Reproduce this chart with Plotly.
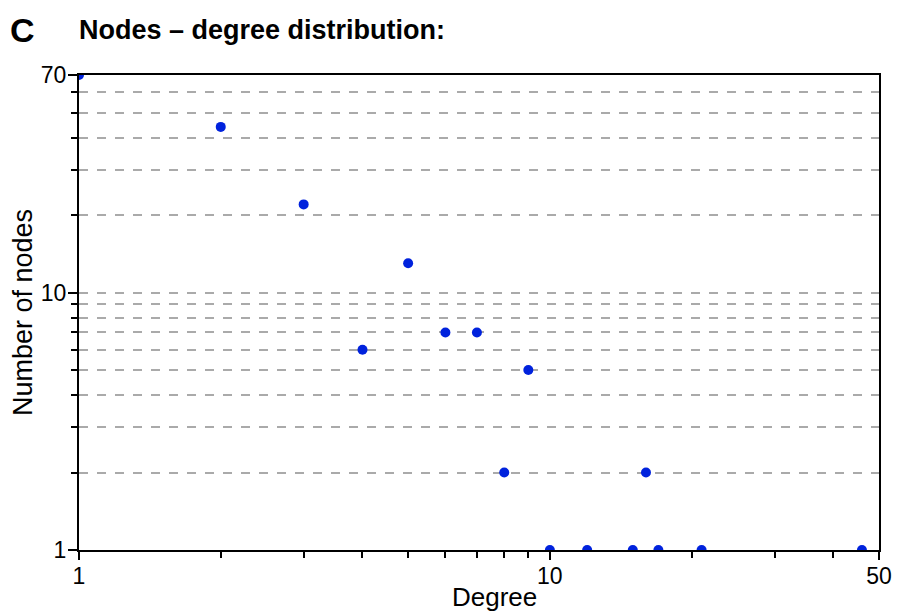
import plotly.graph_objects as go

degree = [1, 2, 3, 4, 5, 6, 7, 8, 9, 10, 12, 15, 16, 17, 21, 46]
nodes = [70, 44, 22, 6, 13, 7, 7, 2, 5, 1, 1, 1, 2, 1, 1, 1]

x_ticks = [1, 10, 50]
x_minor = [2, 3, 4, 5, 6, 7, 8, 9, 20, 30, 40]
y_ticks = [1, 10, 70]
y_minor = [2, 3, 4, 5, 6, 7, 8, 9, 20, 30, 40, 50, 60]

FONT = "Liberation Sans, Arial, sans-serif"

fig = go.Figure()
fig.add_trace(go.Scatter(
    x=degree, y=nodes, mode="markers",
    marker=dict(color="#0022dd", size=10),
    cliponaxis=True, showlegend=False,
))

# page body has an 8px margin, so the figure is sized/offset accordingly
fig.update_layout(
    width=897, height=604,
    margin=dict(l=71, r=26, t=67, b=62),
    paper_bgcolor="white", plot_bgcolor="white",
    font=dict(family=FONT, color="black", size=23),
)
fig.update_xaxes(
    type="log", range=[0, 1.69897], automargin=False,
    tickmode="array", tickvals=x_ticks, ticktext=[str(v) for v in x_ticks],
    ticks="outside", ticklen=8, tickwidth=1.5, tickcolor="black",
    ticklabelstandoff=-4,
    showline=True, linecolor="black", linewidth=2, mirror=True,
    showgrid=False, zeroline=False,
    minor=dict(tickmode="array", tickvals=x_minor, ticks="outside", ticklen=6,
               tickwidth=1.5, tickcolor="black", showgrid=False),
    tickfont=dict(size=23),
)
fig.update_yaxes(
    type="log", range=[0, 1.845098], automargin=False,
    tickmode="array", tickvals=y_ticks, ticktext=[str(v) for v in y_ticks],
    ticks="outside", ticklen=9, tickwidth=1.5, tickcolor="black",
    ticklabelstandoff=-3,
    showline=True, linecolor="black", linewidth=2, mirror=True,
    showgrid=False, zeroline=False,
    minor=dict(tickmode="array", tickvals=y_minor + [10], ticks="outside", ticklen=6,
               tickwidth=1.5, tickcolor="black", showgrid=True,
               gridcolor="#aaaaaa", griddash="dash", gridwidth=1.5),
    title=dict(text="Number of nodes", font=dict(size=27), standoff=1),
    tickfont=dict(size=23),
)

fig.add_annotation(text="Degree", x=0.519, y=-0.099, xref="paper", yref="paper",
                   xanchor="center", yanchor="middle", showarrow=False,
                   font=dict(size=26, family=FONT))
fig.add_annotation(text="<b>C</b>", x=-0.089, y=1.095, xref="paper", yref="paper",
                   xanchor="left", yanchor="middle", showarrow=False,
                   font=dict(size=34, family=FONT))
fig.add_annotation(text="<b>Nodes – degree distribution:</b>", x=-0.002, y=1.095,
                   xref="paper", yref="paper", xanchor="left", yanchor="middle",
                   showarrow=False, font=dict(size=27, family=FONT))

fig.write_html("out.html")
